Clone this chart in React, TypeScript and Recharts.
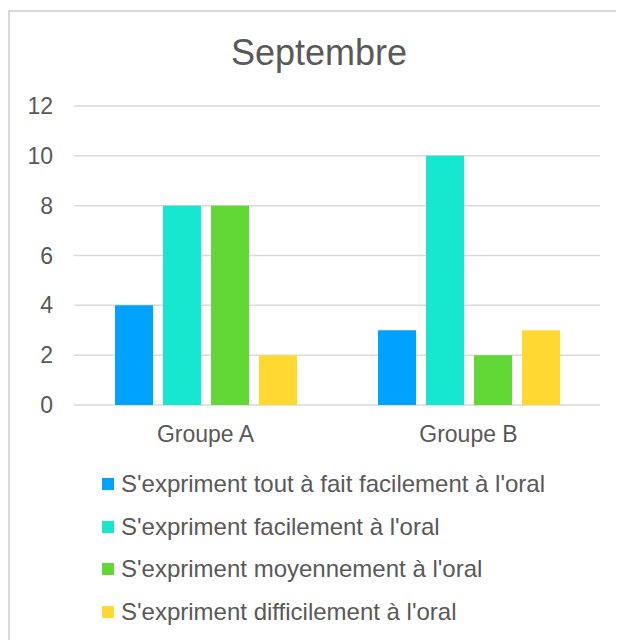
import { Bar, BarChart, CartesianGrid, XAxis, YAxis } from "recharts"

const categories = ["Groupe A", "Groupe B"]
const toutAFait = [4, 3]
const facilement = [8, 10]
const moyennement = [8, 2]
const difficilement = [2, 3]
const yTicks = [0, 2, 4, 6, 8, 10, 12]

const series = [
  { key: "toutAFait", name: "S'expriment tout à fait facilement à l'oral", color: "#00A2FF" },
  { key: "facilement", name: "S'expriment facilement à l'oral", color: "#16E7CF" },
  { key: "moyennement", name: "S'expriment moyennement à l'oral", color: "#61D836" },
  { key: "difficilement", name: "S'expriment difficilement à l'oral", color: "#FFD932" },
]

const data = categories.map((label, i) => ({
  label,
  toutAFait: toutAFait[i],
  facilement: facilement[i],
  moyennement: moyennement[i],
  difficilement: difficilement[i],
}))

const font = "'Liberation Sans', Arial, sans-serif"
const textColor = "#595959"

export default function App() {
  return (
    <div style={{ paddingTop: 2, fontFamily: font }}>
      <style>{"html,body{overflow:hidden}"}</style>
      <div
        style={{
          position: "relative",
          width: 630,
          height: 640,
          boxSizing: "border-box",
          borderTop: "2px solid #d9d9d9",
          borderLeft: "2px solid #d9d9d9",
          overflow: "hidden",
        }}
      >
        <div
          style={{
            position: "absolute",
            left: 0,
            top: 22.5,
            width: 618,
            textAlign: "center",
            fontSize: 36,
            lineHeight: "36px",
            color: textColor,
          }}
        >
          Septembre
        </div>
        <BarChart
          width={614}
          height={440}
          data={data}
          margin={{ top: 94, right: 24, bottom: 17, left: 0 }}
          barCategoryGap={41}
          barGap={10}
        >
          <CartesianGrid vertical={false} stroke="#d9d9d9" strokeWidth={1.5} />
          <XAxis
            dataKey="label"
            axisLine={false}
            tickLine={false}
            tickMargin={15}
            height={30}
            tick={{ fill: textColor, fontSize: 23, fontFamily: font }}
          />
          <YAxis
            domain={[0, 12]}
            ticks={yTicks}
            axisLine={false}
            tickLine={false}
            tickMargin={15}
            width={64}
            tick={{ fill: textColor, fontSize: 23, fontFamily: font }}
          />
          {series.map((s) => (
            <Bar key={s.key} dataKey={s.key} name={s.name} fill={s.color} isAnimationActive={false} />
          ))}
        </BarChart>
        <div style={{ position: "absolute", left: 92, top: 450.6 }}>
          {series.map((s) => (
            <div
              key={s.key}
              style={{ height: 42.7, display: "flex", alignItems: "center", fontSize: 24, color: textColor, whiteSpace: "nowrap" }}
            >
              <span style={{ width: 12, height: 12, background: s.color, marginRight: 7, flexShrink: 0 }} />
              {s.name}
            </div>
          ))}
        </div>
      </div>
    </div>
  )
}
